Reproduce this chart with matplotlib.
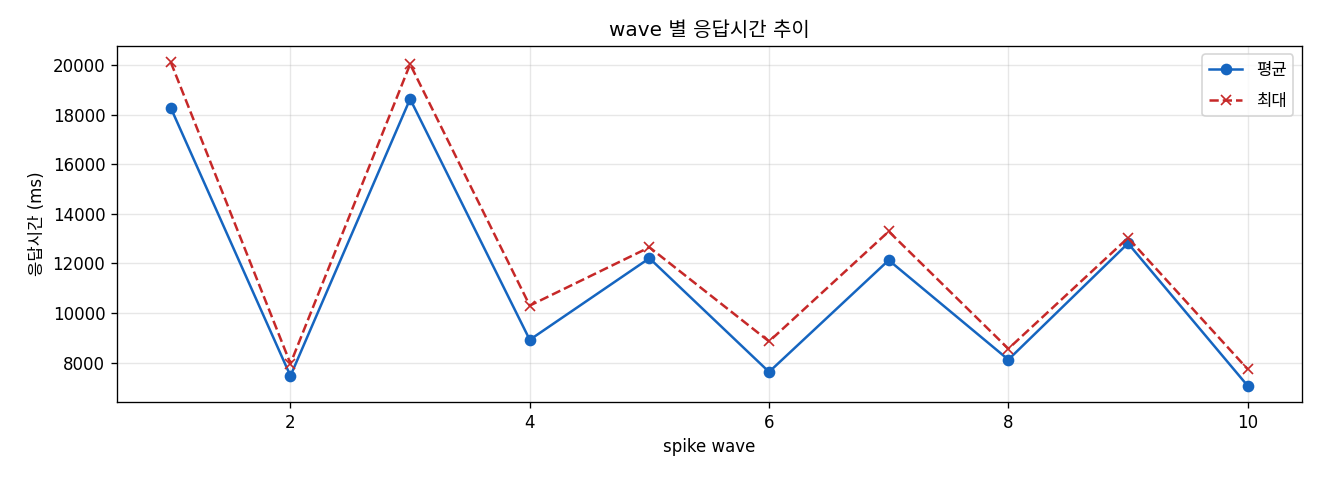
import matplotlib
matplotlib.use("Agg")
import matplotlib.pyplot as plt

plt.rcParams['font.family'] = ['DejaVu Sans', 'Noto Sans CJK KR']
plt.rcParams['axes.unicode_minus'] = False

waves = [1, 2, 3, 4, 5, 6, 7, 8, 9, 10]
avg_ms = [18270, 7465, 18630, 8920, 12210, 7625, 12130, 8120, 12810, 7065]
max_ms = [20110, 7960, 20030, 10300, 12650, 8855, 13290, 8560, 13030, 7735]

fig, ax = plt.subplots(figsize=(11, 4), dpi=120)
fig.subplots_adjust(left=0.0886, right=0.986, top=0.904, bottom=0.1625)

ax.plot(waves, avg_ms, marker='o', linestyle='-', color='#1565C0', label='평균')
ax.plot(waves, max_ms, marker='x', linestyle='--', color='#C62828', label='최대')

ax.set_title('wave 별 응답시간 추이')
ax.set_xlabel('spike wave')
ax.set_ylabel('응답시간 (ms)')
ax.grid(True, alpha=0.3)
ax.legend(loc='upper right', labelspacing=0.75)

fig.savefig('out.png', dpi=120)
